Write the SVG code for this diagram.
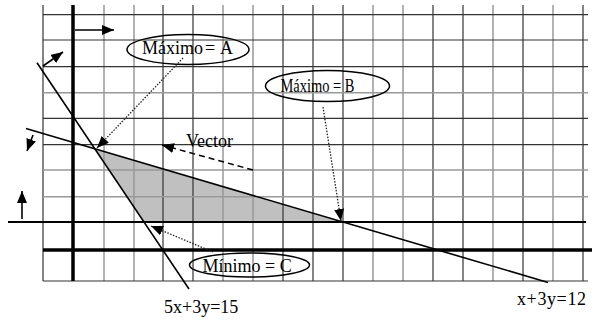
<svg xmlns="http://www.w3.org/2000/svg" width="592" height="320" viewBox="0 0 592 320">
<style>
.gd{stroke:#333;stroke-width:1.2}
.gl{stroke:#999;stroke-width:1.5}
.ax{stroke:#000;stroke-width:3.5}
.cl{stroke:#000;stroke-width:1.6;fill:none}
.el{fill:none;stroke:#000;stroke-width:1.5}
.t{font-family:"Liberation Serif","Times New Roman",serif;font-size:18px;fill:#000}
.arr{stroke:#000;stroke-width:1.6;fill:none;marker-end:url(#ah)}
.dot{stroke:#222;stroke-width:1.3;fill:none;stroke-dasharray:1.5 1.5;marker-end:url(#ah)}
.dash{stroke:#000;stroke-width:1.5;fill:none;stroke-dasharray:6 4;marker-end:url(#ah)}
</style>
<defs>
<marker id="ah" markerUnits="userSpaceOnUse" markerWidth="12" markerHeight="10" refX="12" refY="5" orient="auto" viewBox="0 0 12 10">
<path d="M0,0 L12,5 L0,10 z" fill="#000"/>
</marker>
</defs>
<rect width="592" height="320" fill="#fff"/>
<g id="region">
<polygon points="96,150 343,222 144,222" fill="#c0c0c0"/>
</g>
<g id="grid">
<line class="gd" x1="43" y1="5" x2="43" y2="281"/>
<line class="gl" x1="104" y1="5" x2="104" y2="281"/>
<line class="gl" x1="134" y1="5" x2="134" y2="281"/>
<line class="gd" x1="163" y1="5" x2="163" y2="281"/>
<line class="gd" x1="193" y1="5" x2="193" y2="281"/>
<line class="gl" x1="223" y1="5" x2="223" y2="281"/>
<line class="gl" x1="253" y1="5" x2="253" y2="281"/>
<line class="gd" x1="283" y1="5" x2="283" y2="281"/>
<line class="gd" x1="313" y1="5" x2="313" y2="281"/>
<line class="gd" x1="343" y1="5" x2="343" y2="281"/>
<line class="gl" x1="373" y1="5" x2="373" y2="281"/>
<line class="gl" x1="403" y1="5" x2="403" y2="281"/>
<line class="gd" x1="433" y1="5" x2="433" y2="281"/>
<line class="gd" x1="463" y1="5" x2="463" y2="281"/>
<line class="gl" x1="493" y1="5" x2="493" y2="281"/>
<line class="gd" x1="523" y1="5" x2="523" y2="281"/>
<line class="gl" x1="553" y1="5" x2="553" y2="281"/>
<line class="gd" x1="583" y1="5" x2="583" y2="281"/>
<line class="gd" x1="43" y1="14.7" x2="588" y2="14.7"/>
<line class="gd" x1="43" y1="40" x2="588" y2="40"/>
<line class="gd" x1="43" y1="66.7" x2="588" y2="66.7"/>
<line class="gl" x1="43" y1="92.7" x2="588" y2="92.7"/>
<line class="gd" x1="43" y1="118.3" x2="588" y2="118.3"/>
<line class="gd" x1="43" y1="144.7" x2="588" y2="144.7"/>
<line class="gl" x1="43" y1="170" x2="588" y2="170"/>
<line class="gl" x1="43" y1="196.7" x2="588" y2="196.7"/>
<line class="gd" x1="43" y1="281" x2="588" y2="281"/>
</g>
<g id="axes">
<line class="ax" x1="73" y1="5" x2="73" y2="281"/>
<line class="ax" x1="43" y1="250" x2="592" y2="250"/>
</g>
<g id="constraints">
<line class="cl" x1="8" y1="222" x2="586" y2="222" style="stroke-width:2"/>
<line class="cl" x1="37" y1="62.7" x2="189" y2="289"/>
<line class="cl" x1="26" y1="128.5" x2="548" y2="282.5"/>
</g>
<g id="node-maxA">
<ellipse class="el" cx="188" cy="49.5" rx="61" ry="15"/>
<text class="t" y="54"><tspan x="142">Máximo</tspan><tspan x="205">=</tspan><tspan x="220">A</tspan></text>
</g>
<g id="node-maxB">
<ellipse class="el" cx="327.5" cy="86" rx="62" ry="15.5"/>
<text class="t" x="280.5" y="92" textLength="74" lengthAdjust="spacingAndGlyphs">Máximo = B</text>
</g>
<g id="node-minC">
<ellipse class="el" cx="249.5" cy="265" rx="60" ry="12"/>
<text class="t" x="202.5" y="272">Mínimo = C</text>
</g>
<g id="node-vector">
<text class="t" x="186" y="147">Vector</text>
</g>
<g id="labels">
<text class="t" x="164" y="313">5x+3y=15</text>
<text class="t" x="517" y="305" textLength="69">x+3y=12</text>
</g>
<g id="connectors">
<line class="arr" x1="75" y1="30" x2="114" y2="30"/>
<line class="arr" x1="43" y1="66" x2="63" y2="52"/>
<line class="arr" x1="33" y1="135" x2="27" y2="151"/>
<line class="arr" x1="22" y1="219" x2="22" y2="191"/>
<line class="dot" x1="183" y1="58" x2="97" y2="148"/>
<line class="dot" x1="323" y1="107" x2="341" y2="221"/>
<line class="dot" x1="213" y1="252" x2="151" y2="226"/>
<line class="dash" x1="253" y1="170" x2="162" y2="145"/>
</g>
</svg>
